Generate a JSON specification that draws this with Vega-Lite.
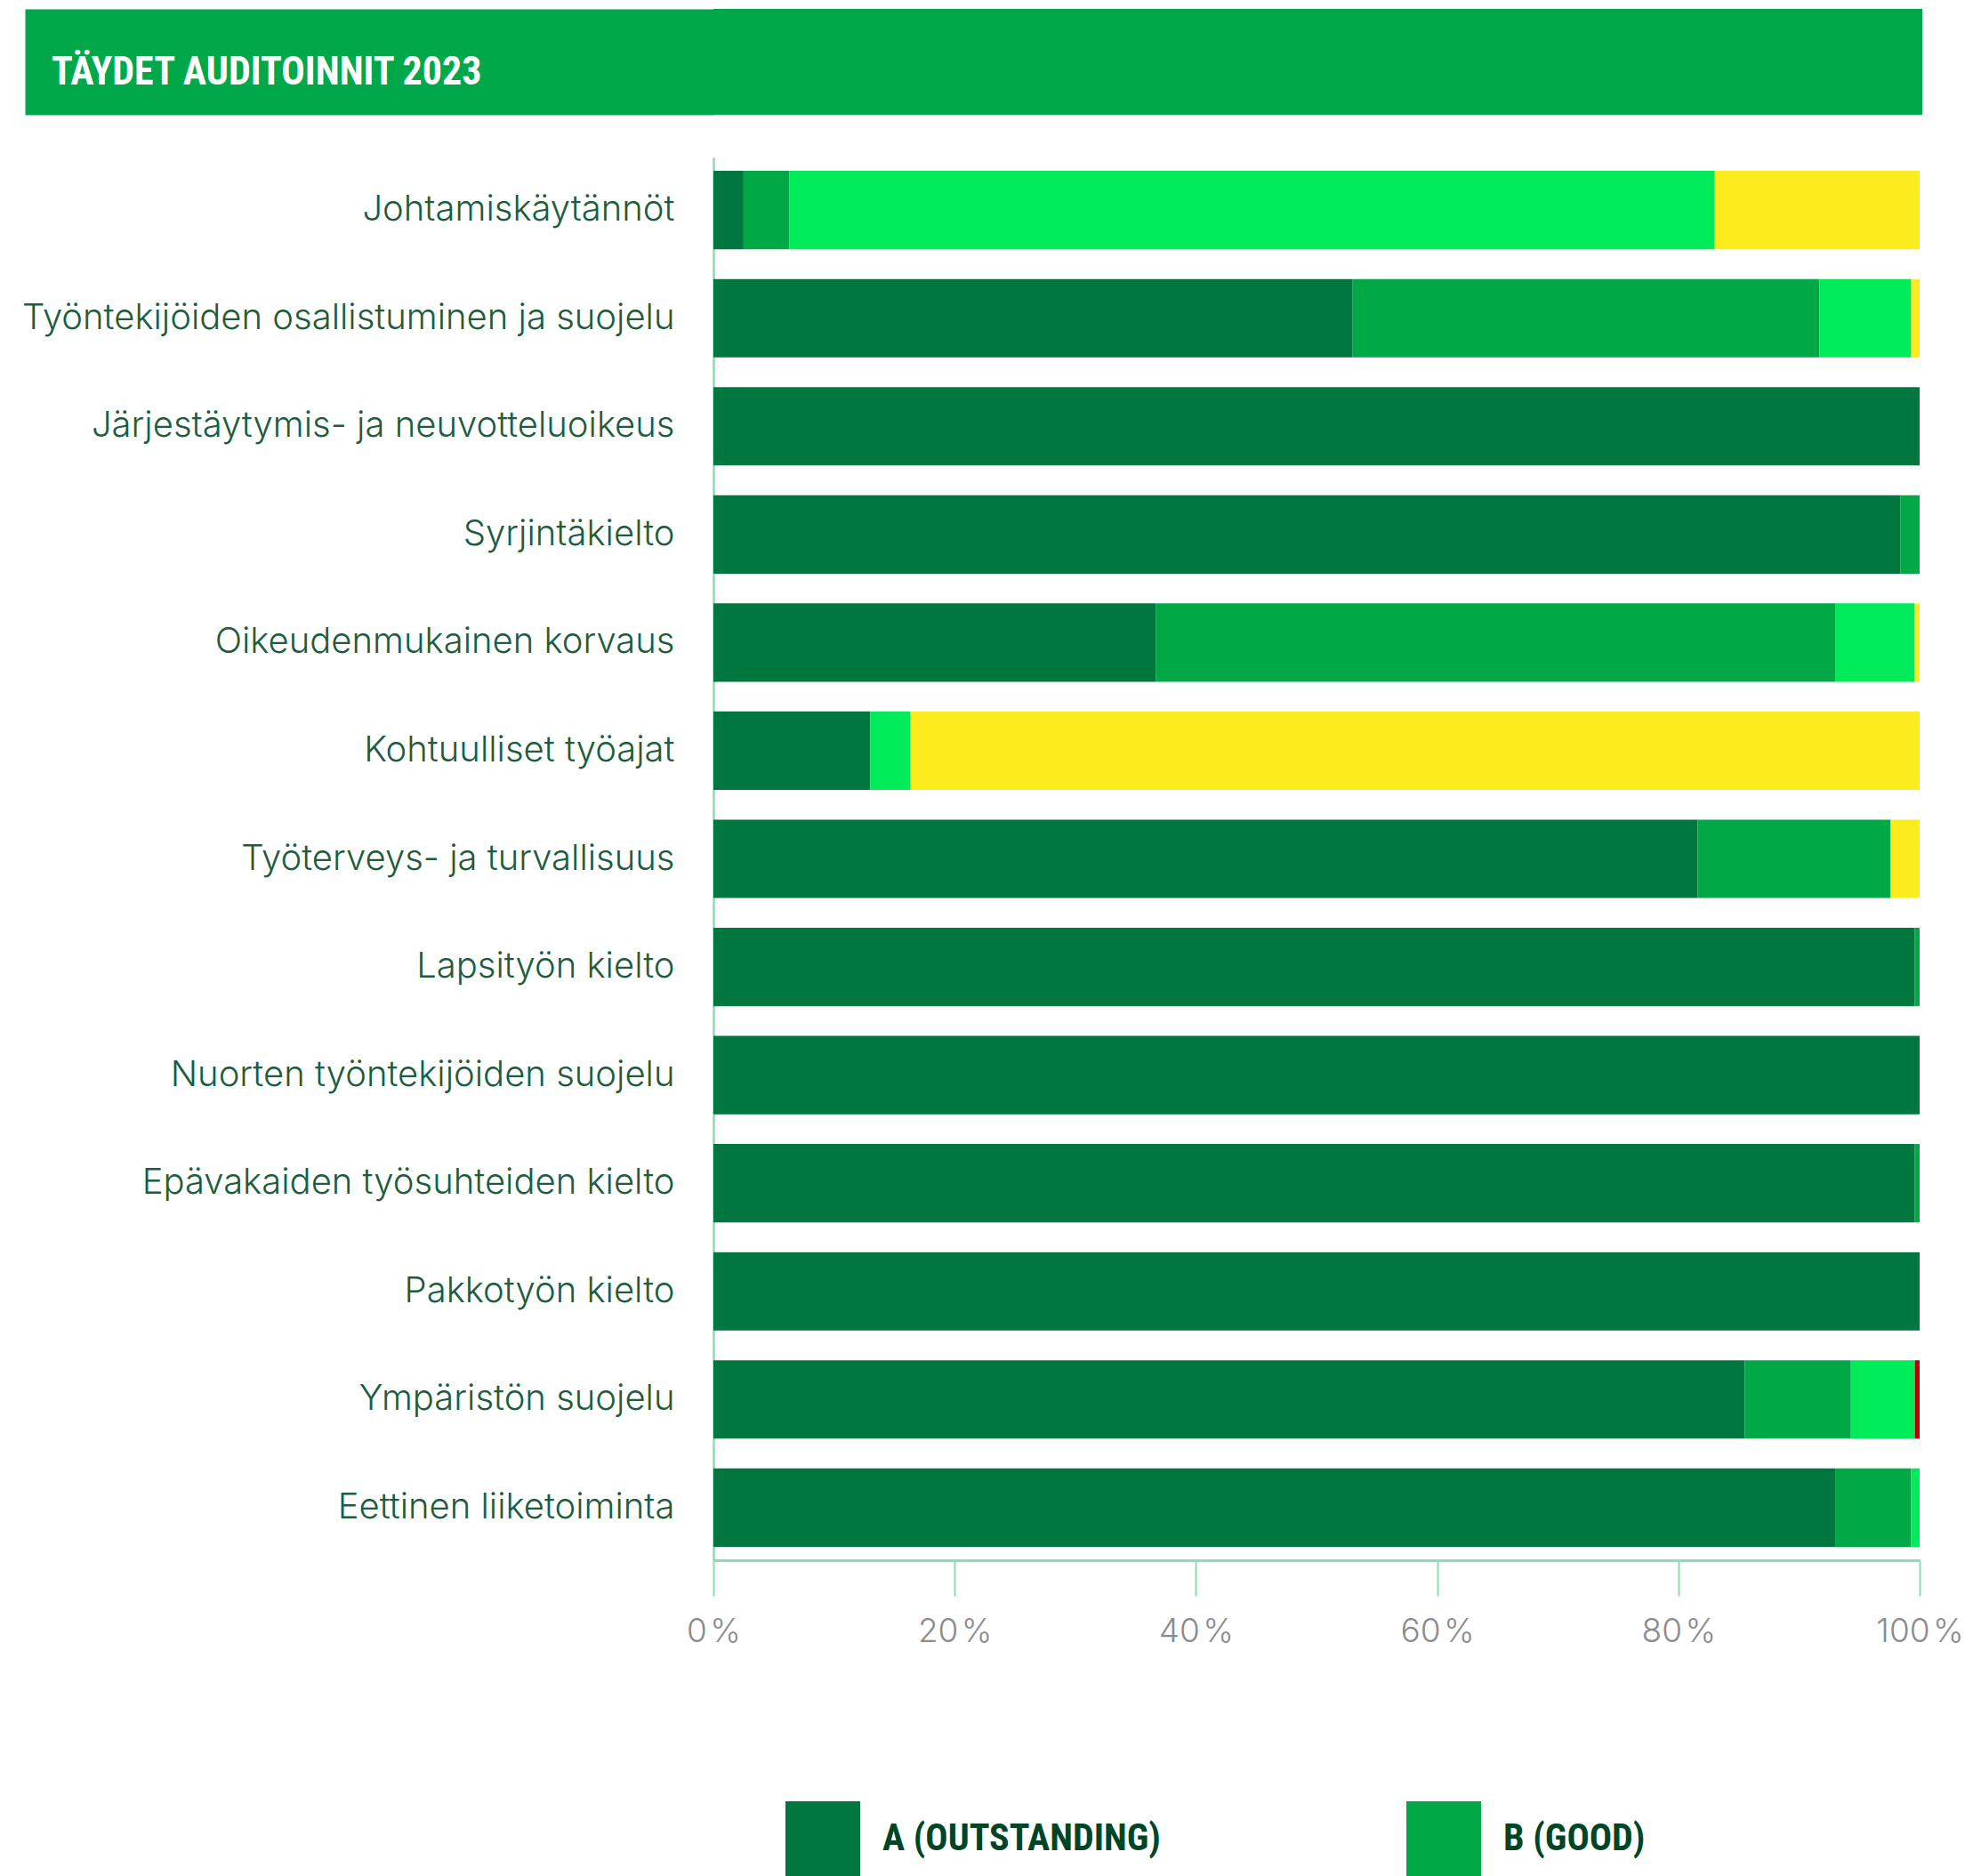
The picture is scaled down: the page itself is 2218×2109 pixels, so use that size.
{
  "$schema": "https://vega.github.io/schema/vega-lite/v6.json",
  "background": "white",
  "padding": {"left": 24, "top": 10, "right": 0, "bottom": 0},
  "spacing": 48,
  "columns": 1,
  "bounds": "full",
  "config": {"view": {"stroke": null}},
  "concat": [
    {
      "width": 1359,
      "height": 119,
      "view": {"fill": "#00a84a", "stroke": null},
      "title": {
        "text": "TÄYDET AUDITOINNIT 2023",
        "anchor": "start",
        "frame": "group",
        "orient": "top",
        "offset": -129,
        "dx": -744,
        "baseline": "alphabetic",
        "font": "Roboto Condensed, Liberation Sans Narrow, Roboto, sans-serif",
        "fontSize": 44,
        "fontWeight": "bold",
        "color": "#ffffff"
      },
      "data": {"values": [{"otsikko": "TÄYDET AUDITOINNIT 2023"}]},
      "mark": {"type": "text", "opacity": 0},
      "encoding": {
        "text": {"field": "otsikko"},
        "y": {
          "field": "otsikko",
          "type": "nominal",
          "axis": {
            "title": null,
            "labels": false,
            "ticks": false,
            "grid": false,
            "domain": true,
            "domainColor": "#00a84a",
            "domainWidth": 775,
            "domainCap": "butt",
            "offset": 386.5
          }
        }
      }
    },
    {
      "width": 1356,
      "height": 1577,
      "data": {
        "values": [
          {"kriteeri": "Johtamiskäytännöt", "luokitus": "A (OUTSTANDING)", "osuus": 2.5},
          {"kriteeri": "Johtamiskäytännöt", "luokitus": "B (GOOD)", "osuus": 3.8},
          {"kriteeri": "Johtamiskäytännöt", "luokitus": "C (ACCEPTABLE)", "osuus": 76.7},
          {"kriteeri": "Johtamiskäytännöt", "luokitus": "D (INSUFFICIENT)", "osuus": 17.0},
          {"kriteeri": "Työntekijöiden osallistuminen ja suojelu", "luokitus": "A (OUTSTANDING)", "osuus": 53.0},
          {"kriteeri": "Työntekijöiden osallistuminen ja suojelu", "luokitus": "B (GOOD)", "osuus": 38.7},
          {"kriteeri": "Työntekijöiden osallistuminen ja suojelu", "luokitus": "C (ACCEPTABLE)", "osuus": 7.6},
          {"kriteeri": "Työntekijöiden osallistuminen ja suojelu", "luokitus": "D (INSUFFICIENT)", "osuus": 0.7},
          {"kriteeri": "Järjestäytymis- ja neuvotteluoikeus", "luokitus": "A (OUTSTANDING)", "osuus": 100},
          {"kriteeri": "Syrjintäkielto", "luokitus": "A (OUTSTANDING)", "osuus": 98.4},
          {"kriteeri": "Syrjintäkielto", "luokitus": "B (GOOD)", "osuus": 1.6},
          {"kriteeri": "Oikeudenmukainen korvaus", "luokitus": "A (OUTSTANDING)", "osuus": 36.7},
          {"kriteeri": "Oikeudenmukainen korvaus", "luokitus": "B (GOOD)", "osuus": 56.3},
          {"kriteeri": "Oikeudenmukainen korvaus", "luokitus": "C (ACCEPTABLE)", "osuus": 6.6},
          {"kriteeri": "Oikeudenmukainen korvaus", "luokitus": "D (INSUFFICIENT)", "osuus": 0.4},
          {"kriteeri": "Kohtuulliset työajat", "luokitus": "A (OUTSTANDING)", "osuus": 13.0},
          {"kriteeri": "Kohtuulliset työajat", "luokitus": "C (ACCEPTABLE)", "osuus": 3.3},
          {"kriteeri": "Kohtuulliset työajat", "luokitus": "D (INSUFFICIENT)", "osuus": 83.7},
          {"kriteeri": "Työterveys- ja turvallisuus", "luokitus": "A (OUTSTANDING)", "osuus": 81.6},
          {"kriteeri": "Työterveys- ja turvallisuus", "luokitus": "B (GOOD)", "osuus": 16.0},
          {"kriteeri": "Työterveys- ja turvallisuus", "luokitus": "D (INSUFFICIENT)", "osuus": 2.4},
          {"kriteeri": "Lapsityön kielto", "luokitus": "A (OUTSTANDING)", "osuus": 99.6},
          {"kriteeri": "Lapsityön kielto", "luokitus": "B (GOOD)", "osuus": 0.4},
          {"kriteeri": "Nuorten työntekijöiden suojelu", "luokitus": "A (OUTSTANDING)", "osuus": 100},
          {"kriteeri": "Epävakaiden työsuhteiden kielto", "luokitus": "A (OUTSTANDING)", "osuus": 99.6},
          {"kriteeri": "Epävakaiden työsuhteiden kielto", "luokitus": "B (GOOD)", "osuus": 0.4},
          {"kriteeri": "Pakkotyön kielto", "luokitus": "A (OUTSTANDING)", "osuus": 100},
          {"kriteeri": "Ympäristön suojelu", "luokitus": "A (OUTSTANDING)", "osuus": 85.5},
          {"kriteeri": "Ympäristön suojelu", "luokitus": "B (GOOD)", "osuus": 8.8},
          {"kriteeri": "Ympäristön suojelu", "luokitus": "C (ACCEPTABLE)", "osuus": 5.3},
          {"kriteeri": "Ympäristön suojelu", "luokitus": "E (UNACCEPTABLE)", "osuus": 0.4},
          {"kriteeri": "Eettinen liiketoiminta", "luokitus": "A (OUTSTANDING)", "osuus": 93.0},
          {"kriteeri": "Eettinen liiketoiminta", "luokitus": "B (GOOD)", "osuus": 6.3},
          {"kriteeri": "Eettinen liiketoiminta", "luokitus": "C (ACCEPTABLE)", "osuus": 0.7}
        ]
      },
      "mark": {"type": "bar"},
      "encoding": {
        "y": {
          "field": "kriteeri",
          "type": "nominal",
          "sort": null,
          "scale": {"paddingInner": 0.275, "paddingOuter": 0.124},
          "axis": {
            "title": null,
            "domain": true,
            "domainColor": "#8fdcad",
            "domainWidth": 2.5,
            "ticks": false,
            "tickSize": 0,
            "labelPadding": 44,
            "labelFont": "Inter",
            "labelFontSize": 40,
            "labelFontWeight": 300,
            "labelColor": "#1d5d3e",
            "labelLimit": 1200,
            "grid": false
          }
        },
        "x": {
          "field": "osuus",
          "type": "quantitative",
          "stack": "zero",
          "scale": {"domain": [0, 100], "nice": false},
          "axis": {
            "title": null,
            "values": [0, 20, 40, 60, 80, 100],
            "labelExpr": "datum.value + '\u200a%'",
            "labelFlush": false,
            "labelOverlap": false,
            "domainColor": "#8fdcad",
            "domainWidth": 3,
            "tickColor": "#8fdcad",
            "tickWidth": 2,
            "tickSize": 40,
            "labelPadding": 22,
            "labelFont": "Inter",
            "labelFontSize": 37,
            "labelFontWeight": 300,
            "labelColor": "#8c8c8c",
            "grid": false
          }
        },
        "color": {
          "field": "luokitus",
          "type": "nominal",
          "scale": {
            "domain": ["A (OUTSTANDING)", "B (GOOD)", "C (ACCEPTABLE)", "D (INSUFFICIENT)", "E (UNACCEPTABLE)"],
            "range": ["#00773f", "#00a846", "#00eb5a", "#fcec1e", "#bf0000"]
          },
          "legend": {
            "orient": "none",
            "legendX": 81,
            "legendY": 2015,
            "direction": "horizontal",
            "columns": 2,
            "title": null,
            "values": ["A (OUTSTANDING)", "B (GOOD)"],
            "symbolType": "square",
            "symbolSize": 7056,
            "symbolStrokeWidth": 0,
            "symbolOpacity": 1,
            "labelFont": "Roboto Condensed, Liberation Sans Narrow, Roboto, sans-serif",
            "labelFontSize": 42,
            "labelFontWeight": "bold",
            "labelColor": "#004526",
            "labelOffset": 25,
            "labelLimit": 1000,
            "columnPadding": 276,
            "padding": 0
          }
        }
      }
    }
  ]
}
